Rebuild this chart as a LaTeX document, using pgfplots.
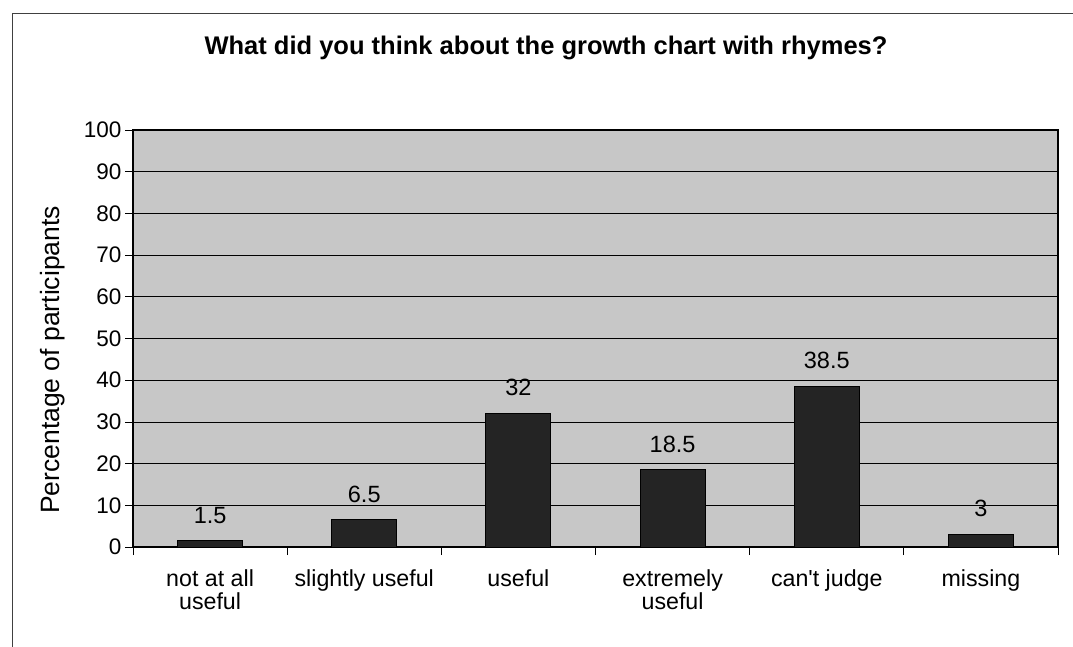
\documentclass[border=0pt]{standalone}
\usepackage{fontspec}
\setmainfont{Liberation Sans}
\usepackage{pgfplots}
\pgfplotsset{compat=1.18}

\definecolor{plotbg}{gray}{0.78}
\definecolor{barfill}{gray}{0.14}

\begin{document}
\begin{tikzpicture}
% page = 1073 x 647, one pt per pixel of the reference
\useasboundingbox (0pt,0pt) rectangle (1073pt,-647pt);
\draw[line width=1pt, black!75] (12pt,-647pt) -- (12pt,-14pt) -- (1073pt,-14pt);

\node[font=\fontsize{25.5}{30}\selectfont\bfseries] at (546pt,-48pt)
  {What did you think about the growth chart with rhymes?};
\node[rotate=90, font=\fontsize{26.5}{30}\selectfont] at (53pt,-360pt)
  {Percentage of participants};

\begin{axis}[
    at={(133pt,-547pt)}, anchor=south west,
    scale only axis, width=925pt, height=417pt,
    /pgf/number format/assume math mode=true,
    axis background/.style={fill=plotbg},
    ybar, bar width=65pt,
    xmin=-0.5, xmax=5.5, ymin=0, ymax=100,
    ytick distance=10,
    xtick={0,...,5},
    xticklabels={not at all\\useful, slightly useful, useful, extremely\\useful, can\textquotesingle t judge, missing},
    minor xtick={-0.5,0.5,...,5.5},
    major x tick style={draw=none},
    tick pos=left, tick align=outside,
    major tick length=8pt, minor tick length=8pt,
    tick style={black, line width=0.8pt},
    axis line style={line width=1.5pt},
    ymajorgrids, grid style={black, line width=0.7pt},
    yticklabel style={font=\fontsize{22.5}{24}\selectfont},
    xticklabel style={font=\fontsize{23.2}{23}\selectfont, align=center, yshift=-11pt},
    nodes near coords,
    every node near coord/.append style={font=\fontsize{23.5}{24}\selectfont, anchor=south, inner sep=0pt, yshift=17pt, black},
]
\addplot[fill=barfill, draw=black, line width=1pt] coordinates {
    (0,1.5) (1,6.5) (2,32) (3,18.5) (4,38.5) (5,3)
};
\end{axis}
\end{tikzpicture}
\end{document}
